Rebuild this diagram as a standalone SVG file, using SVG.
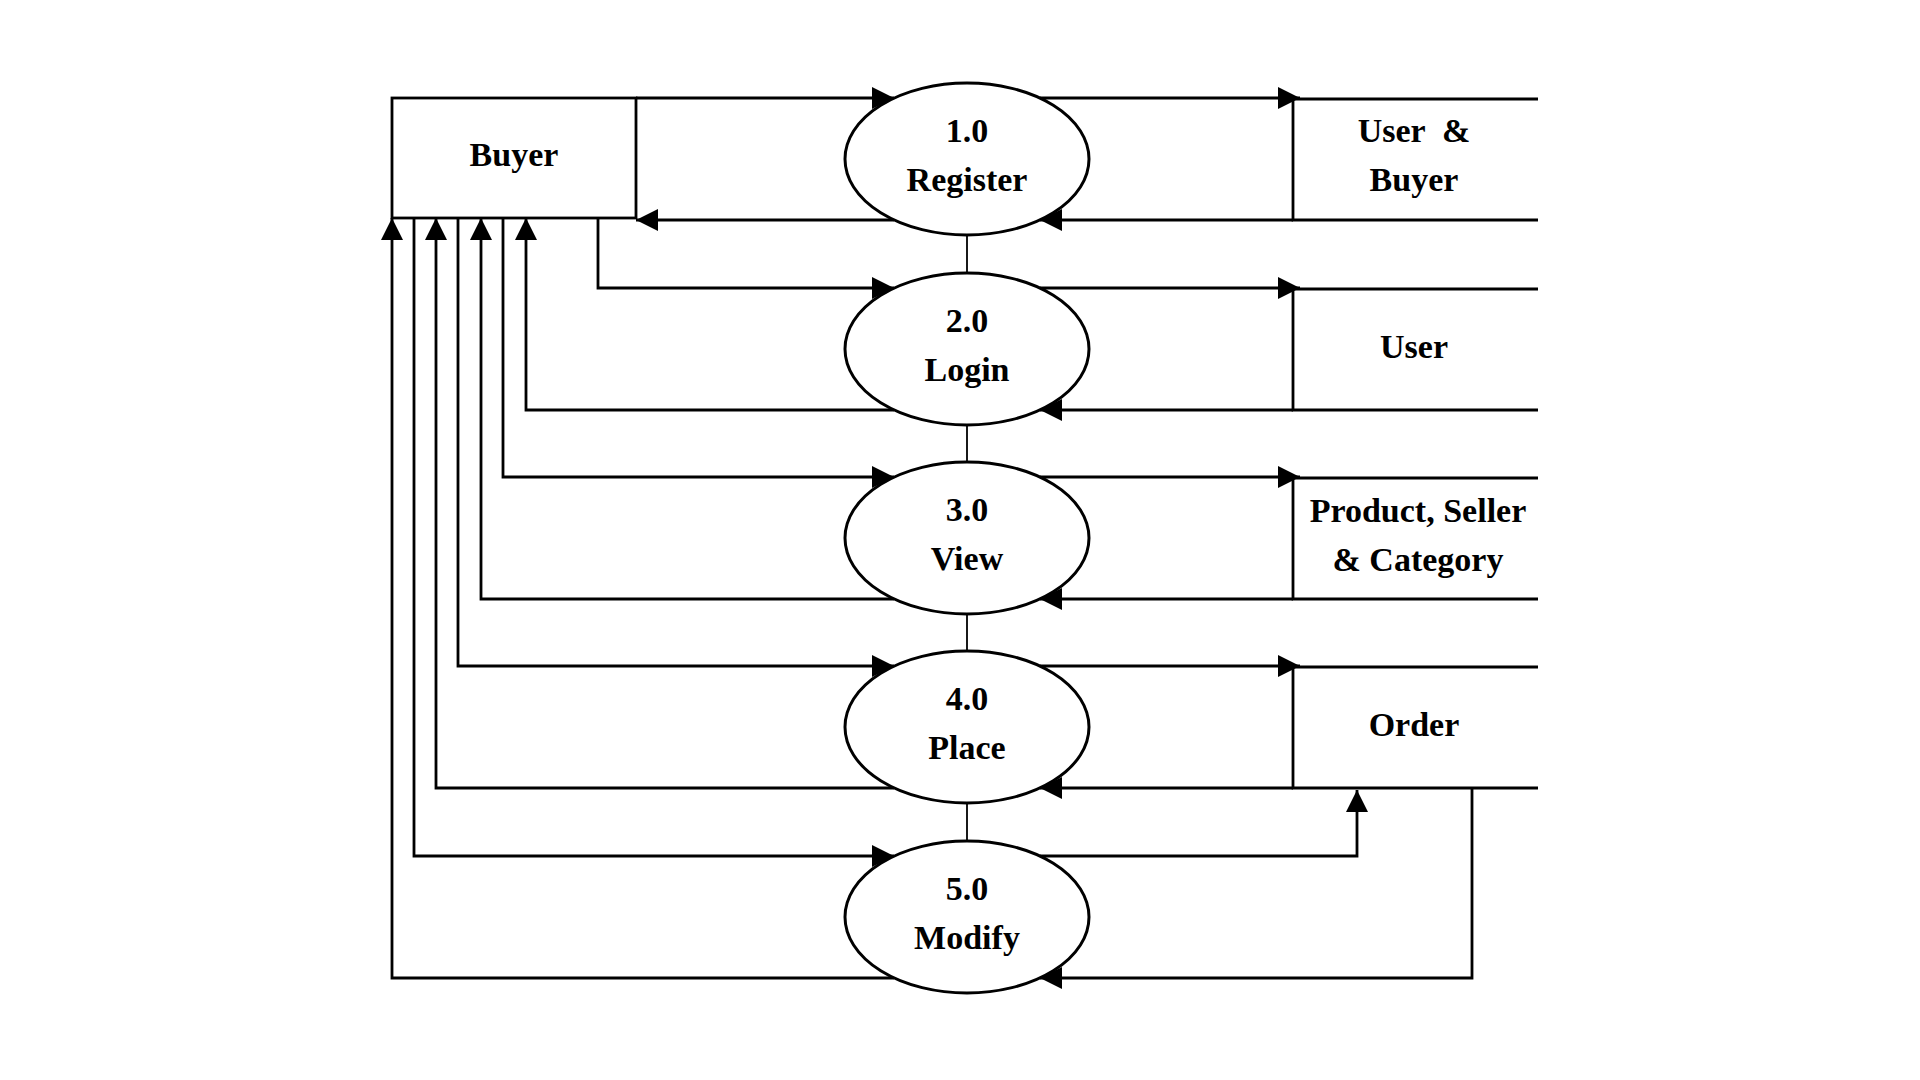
<svg xmlns="http://www.w3.org/2000/svg" width="1920" height="1080" viewBox="0 0 1920 1080">
<style>
.ln{fill:none;stroke:#000;stroke-width:2.8}
.thin{fill:none;stroke:#000;stroke-width:1.8}
.proc{fill:#fff;stroke:#000;stroke-width:3}
.box{fill:#fff;stroke:#000;stroke-width:2.8}
.t{font-family:"Liberation Serif","Times New Roman",serif;font-weight:bold;font-size:34px;text-anchor:middle;fill:#000}
</style>
<defs>
<marker id="ah" markerUnits="userSpaceOnUse" markerWidth="22" markerHeight="22" viewBox="0 0 20 20" refX="20" refY="10" orient="auto">
<path d="M0,0 L20,10 L0,20 Z" fill="#000"/>
</marker>
</defs>
<rect width="1920" height="1080" fill="#fff"/>
<g id="connectors">
<line class="thin" x1="967" y1="235" x2="967" y2="273"/>
<line class="thin" x1="967" y1="425" x2="967" y2="462"/>
<line class="thin" x1="967" y1="614" x2="967" y2="651"/>
<line class="thin" x1="967" y1="803" x2="967" y2="841"/>
<line class="ln" x1="636" y1="98" x2="894" y2="98" marker-end="url(#ah)"/>
<line class="ln" x1="894" y1="220" x2="636" y2="220" marker-end="url(#ah)"/>
<path class="ln" d="M598,218 V288 H894" marker-end="url(#ah)"/>
<path class="ln" d="M894,410 H526 V218" marker-end="url(#ah)"/>
<path class="ln" d="M503,218 V477 H894" marker-end="url(#ah)"/>
<path class="ln" d="M894,599 H481 V218" marker-end="url(#ah)"/>
<path class="ln" d="M458,218 V666 H894" marker-end="url(#ah)"/>
<path class="ln" d="M894,788 H436 V218" marker-end="url(#ah)"/>
<path class="ln" d="M414,218 V856 H894" marker-end="url(#ah)"/>
<path class="ln" d="M894,978 H392 V218" marker-end="url(#ah)"/>
<line class="ln" x1="1040" y1="98" x2="1300" y2="98" marker-end="url(#ah)"/>
<line class="ln" x1="1293" y1="220" x2="1040" y2="220" marker-end="url(#ah)"/>
<line class="ln" x1="1040" y1="288" x2="1300" y2="288" marker-end="url(#ah)"/>
<line class="ln" x1="1293" y1="410" x2="1040" y2="410" marker-end="url(#ah)"/>
<line class="ln" x1="1040" y1="477" x2="1300" y2="477" marker-end="url(#ah)"/>
<line class="ln" x1="1293" y1="599" x2="1040" y2="599" marker-end="url(#ah)"/>
<line class="ln" x1="1040" y1="666" x2="1300" y2="666" marker-end="url(#ah)"/>
<line class="ln" x1="1293" y1="788" x2="1040" y2="788" marker-end="url(#ah)"/>
<path class="ln" d="M1040,856 H1357 V790" marker-end="url(#ah)"/>
<path class="ln" d="M1472,788 V978 H1040" marker-end="url(#ah)"/>
</g>
<g id="buyer">
<rect class="box" x="392" y="98" width="244" height="120"/>
<text class="t" x="514" y="166">Buyer</text>
</g>
<g id="p1">
<ellipse class="proc" cx="967" cy="159" rx="122" ry="76"/>
<text class="t" x="967" y="142">1.0</text>
<text class="t" x="967" y="191">Register</text>
</g>
<g id="p2">
<ellipse class="proc" cx="967" cy="349" rx="122" ry="76"/>
<text class="t" x="967" y="332">2.0</text>
<text class="t" x="967" y="381">Login</text>
</g>
<g id="p3">
<ellipse class="proc" cx="967" cy="538" rx="122" ry="76"/>
<text class="t" x="967" y="521">3.0</text>
<text class="t" x="967" y="570">View</text>
</g>
<g id="p4">
<ellipse class="proc" cx="967" cy="727" rx="122" ry="76"/>
<text class="t" x="967" y="710">4.0</text>
<text class="t" x="967" y="759">Place</text>
</g>
<g id="p5">
<ellipse class="proc" cx="967" cy="917" rx="122" ry="76"/>
<text class="t" x="967" y="900">5.0</text>
<text class="t" x="967" y="949">Modify</text>
</g>
<g id="store1">
<path class="ln" d="M1538,99 H1293 V220 H1538"/>
<text class="t" x="1414" y="142" xml:space="preserve">User  &amp;</text>
<text class="t" x="1414" y="191">Buyer</text>
</g>
<g id="store2">
<path class="ln" d="M1538,289 H1293 V410 H1538"/>
<text class="t" x="1414" y="358">User</text>
</g>
<g id="store3">
<path class="ln" d="M1538,478 H1293 V599 H1538"/>
<text class="t" x="1418" y="522">Product, Seller</text>
<text class="t" x="1418" y="571">&amp; Category</text>
</g>
<g id="store4">
<path class="ln" d="M1538,667 H1293 V788 H1538"/>
<text class="t" x="1414" y="736">Order</text>
</g>
</svg>
